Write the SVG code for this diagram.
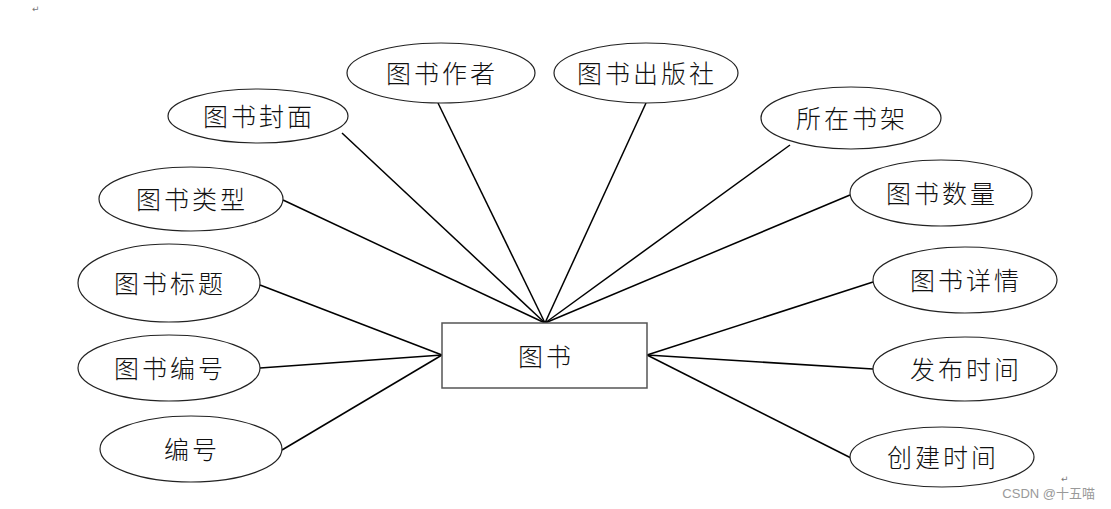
<svg xmlns="http://www.w3.org/2000/svg" width="1111" height="509" viewBox="0 0 1111 509">
<style>
.attr ellipse{fill:#fff;stroke:#222;stroke-width:1.2}
.lbl{font-family:"Noto Sans CJK SC","Noto Sans CJK JP",sans-serif;font-size:25px;font-weight:300;fill:#111;text-anchor:middle;dominant-baseline:central;letter-spacing:3px}
.conn line{stroke:#000;stroke-width:1.5}
.mark{font-family:"DejaVu Sans",sans-serif;font-size:9px;fill:#777}
</style>
<rect width="1111" height="509" fill="#fff"/>
<text class="mark" x="32" y="12">↵</text>
<g id="connectors" class="conn">
<line x1="283" y1="200" x2="545" y2="323"/>
<line x1="342" y1="133" x2="545" y2="323"/>
<line x1="438" y1="103" x2="545" y2="323"/>
<line x1="646" y1="103" x2="545" y2="323"/>
<line x1="790" y1="145" x2="545" y2="323"/>
<line x1="850" y1="195" x2="545" y2="323"/>
<line x1="260" y1="285" x2="442" y2="355"/>
<line x1="260" y1="368" x2="442" y2="355"/>
<line x1="282" y1="450" x2="442" y2="355"/>
<line x1="873" y1="282" x2="647" y2="355"/>
<line x1="873" y1="369" x2="647" y2="355"/>
<line x1="851" y1="458" x2="647" y2="355"/>
</g>
<g id="book">
<rect x="442" y="323" width="205" height="65" fill="#fff" stroke="#555" stroke-width="1.5"/>
<text class="lbl" x="546" y="355">图书</text>
</g>
<g id="cover" class="attr"><ellipse cx="258" cy="116" rx="90" ry="27"/><text class="lbl" x="259" y="115">图书封面</text></g>
<g id="author" class="attr"><ellipse cx="441" cy="73" rx="94" ry="30"/><text class="lbl" x="442" y="72">图书作者</text></g>
<g id="publisher" class="attr"><ellipse cx="646" cy="73" rx="92" ry="30"/><text class="lbl" x="647" y="72">图书出版社</text></g>
<g id="shelf" class="attr"><ellipse cx="851" cy="118" rx="90" ry="31"/><text class="lbl" x="852" y="117">所在书架</text></g>
<g id="type" class="attr"><ellipse cx="191" cy="199" rx="92" ry="32"/><text class="lbl" x="192" y="198">图书类型</text></g>
<g id="count" class="attr"><ellipse cx="941" cy="193" rx="91" ry="33"/><text class="lbl" x="942" y="192">图书数量</text></g>
<g id="title" class="attr"><ellipse cx="169" cy="283" rx="91" ry="39"/><text class="lbl" x="170" y="282">图书标题</text></g>
<g id="detail" class="attr"><ellipse cx="965" cy="280" rx="92" ry="33"/><text class="lbl" x="966" y="279">图书详情</text></g>
<g id="bookno" class="attr"><ellipse cx="169" cy="368" rx="91" ry="33"/><text class="lbl" x="170" y="367">图书编号</text></g>
<g id="pubtime" class="attr"><ellipse cx="965" cy="369" rx="92" ry="32"/><text class="lbl" x="966" y="368">发布时间</text></g>
<g id="no" class="attr"><ellipse cx="191" cy="449" rx="91" ry="33"/><text class="lbl" x="192" y="448">编号</text></g>
<g id="created" class="attr"><ellipse cx="942" cy="457" rx="92" ry="30"/><text class="lbl" x="943" y="456">创建时间</text></g>
<text x="1095" y="498" text-anchor="end" font-family="'Liberation Sans','Noto Sans CJK SC',sans-serif" font-size="13" fill="#999">CSDN @十五喵</text>
<text class="mark" x="1061" y="482">↵</text>
</svg>
